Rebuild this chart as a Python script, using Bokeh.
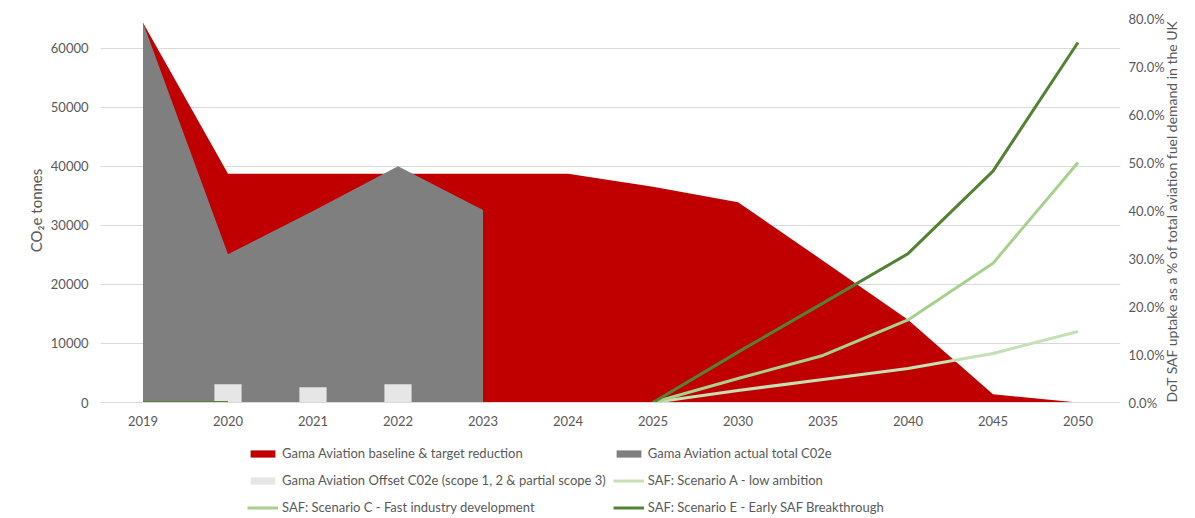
import math
from bokeh.plotting import figure
from bokeh.layouts import column
from bokeh.models import (Range1d, LinearAxis, FixedTicker, NumeralTickFormatter,
                          BasicTickFormatter, Legend, LegendItem)
from bokeh.embed import file_html
from bokeh.resources import INLINE

# ---------------- data ----------------
years = ["2019", "2020", "2021", "2022", "2023", "2024", "2025",
         "2030", "2035", "2040", "2045", "2050"]
baseline = [64300, 38700, 38700, 38700, 38700, 38700, 36500,
            33900, 24000, 14000, 1400, 0]
actual_years = ["2019", "2020", "2021", "2022", "2023"]
actual = [64300, 25100, 32400, 40000, 32600]
offset_years = ["2020", "2021", "2022"]
offset = [3100, 2600, 3100]
nan = float("nan")
saf_a = [0, 0, nan, nan, nan, nan, 0, 0.025, 0.048, 0.071, 0.102, 0.148]
saf_c = [0, 0, nan, nan, nan, nan, 0, 0.050, 0.098, 0.172, 0.290, 0.500]
saf_e = [0, 0, nan, nan, nan, nan, 0, 0.105, 0.207, 0.310, 0.482, 0.750]
left_ticks = [0, 10000, 20000, 30000, 40000, 50000, 60000]
right_ticks = [0.0, 0.1, 0.2, 0.3, 0.4, 0.5, 0.6, 0.7, 0.8]

names = {
    "base": "Gama Aviation baseline & target reduction",
    "actual": "Gama Aviation actual total C02e",
    "offset": "Gama Aviation Offset C02e (scope 1, 2 & partial scope 3)",
    "a": "SAF: Scenario A - low ambition",
    "c": "SAF: Scenario C - Fast industry development",
    "e": "SAF: Scenario E - Early SAF Breakthrough",
}
right_title = "DoT SAF uptake as a % of total aviation fuel demand in the UK"
left_title = "CO\u2082e tonnes"

# ---------------- styles ----------------
FONT = "Lato"
TXT = "#595959"
GRID = "#d9d9d9"
RED = "#C00000"
GRAY = "#7F7F7F"
OFFC = "#E7E6E6"
CA = "#C5E0B4"
CC = "#A9D18E"
CE = "#548235"

pos = list(range(len(years)))
idx = {y: i for i, y in enumerate(years)}

p = figure(width=1195, height=432, output_backend="svg", toolbar_location=None,
           x_range=Range1d(-0.5, len(years) - 0.5), y_range=Range1d(0, 65000),
           min_border_left=100, min_border_right=75, min_border_top=18,
           min_border_bottom=30)
p.outline_line_color = None
p.extra_y_ranges = {"pct": Range1d(0, 0.8)}

# red baseline area
p.varea(x=pos, y1=[0] * len(pos), y2=baseline, fill_color=RED)

# gray actual area (vertical drop at last actual year)
ax = [idx[y] for y in actual_years]
p.patch(ax + [ax[-1], ax[0]], actual + [0, 0], fill_color=GRAY, line_color=None)

# offset bars
p.vbar(x=[idx[y] for y in offset_years], top=offset, width=0.32,
       fill_color=OFFC, line_color=None)

# SAF lines
for ys, col in ((saf_a, CA), (saf_c, CC), (saf_e, CE)):
    p.line(pos, ys, y_range_name="pct", line_color=col, line_width=3,
           line_join="round")


def plain(axis):
    axis.major_tick_line_color = None
    axis.minor_tick_line_color = None
    axis.major_tick_out = 0
    axis.major_tick_in = 0
    axis.minor_tick_out = 0
    axis.minor_tick_in = 0
    axis.major_label_text_font = FONT
    axis.major_label_text_font_size = "13px"
    axis.major_label_text_color = TXT


# axes
xa = p.xaxis[0]
plain(xa)
xa.ticker = FixedTicker(ticks=pos)
xa.major_label_overrides = {i: y for i, y in enumerate(years)}
xa.axis_line_color = GRID
xa.major_label_standoff = 13

lt = FixedTicker(ticks=left_ticks)
ya = p.yaxis[0]
plain(ya)
ya.ticker = lt
ya.formatter = BasicTickFormatter(use_scientific=False)
ya.axis_line_color = None
ya.major_label_standoff = 12
ya.axis_label = left_title
ya.axis_label_text_font = FONT
ya.axis_label_text_font_size = "15px"
ya.axis_label_text_font_style = "normal"
ya.axis_label_text_color = TXT
ya.axis_label_standoff = 3

p.xgrid.visible = False
p.ygrid.ticker = lt
p.ygrid.grid_line_color = GRID
p.ygrid.grid_line_width = 1

rax = LinearAxis(y_range_name="pct", ticker=FixedTicker(ticks=right_ticks),
                 formatter=NumeralTickFormatter(format="0.0%"))
plain(rax)
rax.axis_line_color = None
rax.major_label_standoff = 8
rax.axis_label = right_title
rax.axis_label_text_font = FONT
rax.axis_label_text_font_size = "14px"
rax.axis_label_text_font_style = "normal"
rax.axis_label_text_color = TXT
rax.axis_label_standoff = 4
try:
    rax.axis_label_orientation = math.pi / 2
except Exception:
    pass
try:
    rax.axis_label_align = "start"
except Exception:
    pass
p.add_layout(rax, "right")

# ---------------- legend strip below ----------------
q = figure(width=1195, height=86, output_backend="svg", toolbar_location=None,
           x_range=Range1d(0, 1), y_range=Range1d(0, 1),
           x_axis_type=None, y_axis_type=None, min_border=0)
q.outline_line_color = None
q.xgrid.visible = False
q.ygrid.visible = False
blank = [nan]
g_base = q.varea(x=blank, y1=blank, y2=blank, fill_color=RED)
g_act = q.patch(blank, blank, fill_color=GRAY, line_color=None)
g_off = q.vbar(x=blank, top=blank, width=0.3, fill_color=OFFC, line_color=None)
g_a = q.line(blank, blank, line_color=CA, line_width=3)
g_c = q.line(blank, blank, line_color=CC, line_width=3)
g_e = q.line(blank, blank, line_color=CE, line_width=3)

legend = Legend(items=[
    LegendItem(label=names["base"], renderers=[g_base]),
    LegendItem(label=names["actual"], renderers=[g_act]),
    LegendItem(label=names["offset"], renderers=[g_off]),
    LegendItem(label=names["a"], renderers=[g_a]),
    LegendItem(label=names["c"], renderers=[g_c]),
    LegendItem(label=names["e"], renderers=[g_e]),
], location=(147, 1), orientation="horizontal", ncols=2,
    glyph_width=31, glyph_height=9, label_standoff=4, label_height=20,
    spacing=7, padding=0, margin=0, border_line_color=None,
    background_fill_alpha=0, label_text_font=FONT, label_text_font_size="13px",
    label_text_color=TXT)
q.add_layout(legend, "center")

open("out.html", "w").write(file_html(column(p, q, spacing=0), INLINE))
